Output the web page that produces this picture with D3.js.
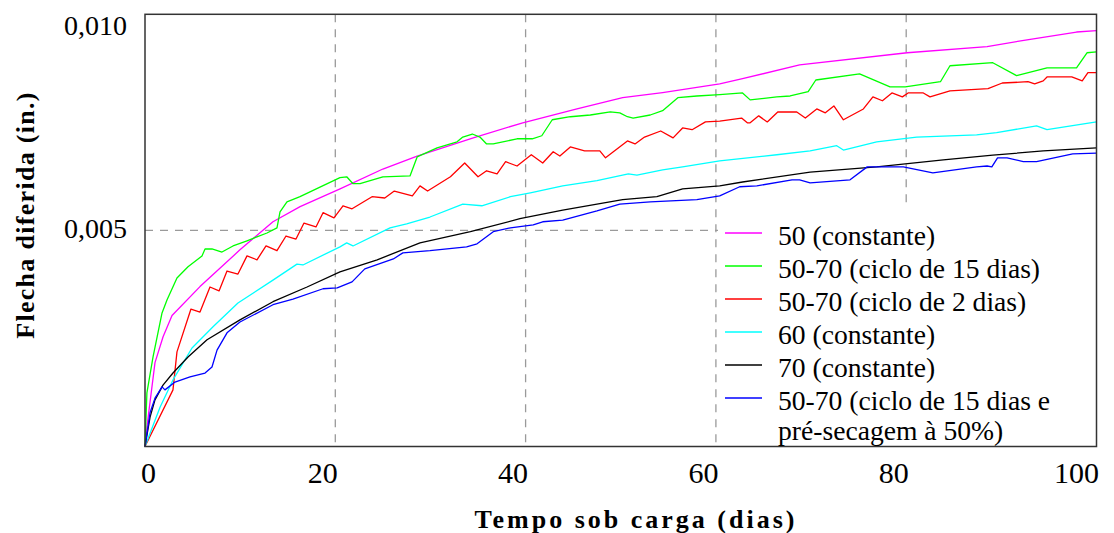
<!DOCTYPE html>
<html><head><meta charset="utf-8">
<script src="https://cdn.jsdelivr.net/npm/d3@7"></script>
<style>html,body{margin:0;padding:0;background:#fff;} svg{display:block;}</style>
</head><body>
<svg id="chart" width="1114" height="533"></svg>
<script>
// ---- tick labels / grid ----
const xTicks = [0, 20, 40, 60, 80, 100];
const xTickLabels = ["0", "20", "40", "60", "80", "100"];
const yTicks = [0.005, 0.010];
const yTickLabels = ["0,005", "0,010"];
const xGrid = [20, 40, 60, 80];
const yGrid = [0.005];

// ---- series names / colours ----
const seriesNames = [
  "50 (constante)",
  "50-70 (ciclo de 15 dias)",
  "50-70 (ciclo de 2 dias)",
  "60 (constante)",
  "70 (constante)",
  "50-70 (ciclo de 15 dias e\npré-secagem à 50%)"
];
const seriesColors = ["#ff00ff", "#00ff00", "#ff0000", "#00ffff", "#000000", "#0000ff"];

// ---- data: days, deflection (x 0.001 in.) ----
const magentaDays = [0,0.2,1.05,1.9,2.84,5.78,9.98,13.45,16.3,20.5,25.0,28.6,34.5,39.7,45.4,50.2,54.4,60.4,62.8,68.8,80.1,88.5,92.7,97.9,100];
const magentaVals = [0,0.45,1.94,2.54,3.03,3.70,4.55,5.20,5.55,5.96,6.42,6.72,7.14,7.49,7.81,8.07,8.19,8.39,8.51,8.83,9.11,9.25,9.41,9.59,9.62];

const greenDays = [0,0.2,0.84,1.79,2.31,3.36,4.52,5.99,6.31,7.04,8.09,9.25,10.72,12.82,13.87,14.19,14.92,16.29,20.49,21.2,21.86,22.6,25.0,27.85,28.6,30.7,32.8,33.4,34.4,35.2,35.9,36.6,39.1,40.7,41.7,42.8,44.7,46.8,48.9,49.9,50.7,51.3,53.1,54.4,56.0,58.0,60.4,62.8,63.6,66.4,67.8,69.7,70.5,75.1,78.3,79.9,83.6,84.6,89.1,91.6,94.8,97.9,99.0,100];
const greenVals = [0,1.24,2.07,3.09,3.39,3.90,4.16,4.41,4.57,4.57,4.50,4.64,4.76,4.94,5.06,5.43,5.66,5.78,6.22,6.24,6.08,6.08,6.24,6.26,6.70,6.91,7.05,7.16,7.23,7.16,7.00,7.00,7.12,7.12,7.19,7.56,7.63,7.67,7.74,7.72,7.63,7.60,7.67,7.77,8.07,8.11,8.14,8.18,8.02,8.09,8.11,8.21,8.48,8.62,8.32,8.32,8.44,8.81,8.88,8.58,8.76,8.76,9.11,9.13];

const redDays = [0,2.94,3.36,4.83,5.78,6.83,7.78,8.62,9.77,10.72,11.77,12.72,13.87,14.82,15.87,16.71,17.97,18.71,19.86,20.81,21.76,23.86,25.2,26.2,28.1,28.9,29.7,32.1,33.6,35.0,35.9,37.0,37.9,39.1,40.6,41.8,42.9,43.6,44.7,46.2,47.8,48.4,50.7,51.5,52.5,54.2,55.5,56.5,57.5,58.9,60.4,62.7,63.3,63.6,64.5,65.4,66.5,68.5,69.4,70.6,71.5,72.4,73.4,75.5,76.5,77.5,78.5,79.6,80.2,81.8,82.5,84.6,88.6,90.1,92.8,93.5,94.4,94.8,97.4,98.5,99.1,100];
const redVals = [0,1.31,2.19,3.18,3.11,3.69,3.60,4.06,3.99,4.41,4.32,4.64,4.53,4.87,4.80,5.17,5.08,5.41,5.29,5.57,5.50,5.78,5.75,5.91,5.80,6.03,5.91,6.24,6.56,6.24,6.38,6.31,6.59,6.49,6.75,6.56,6.82,6.72,6.93,6.84,6.84,6.68,7.07,7.00,7.16,7.30,7.14,7.37,7.33,7.51,7.53,7.60,7.49,7.49,7.65,7.51,7.74,7.74,7.60,7.81,7.72,7.88,7.56,7.81,8.09,8.00,8.18,8.09,8.18,8.18,8.09,8.23,8.28,8.41,8.44,8.39,8.46,8.55,8.55,8.46,8.65,8.65];

const cyanDays = [0,1.58,2.94,4.94,7.15,9.77,13.45,15.97,16.6,20.49,21.2,21.86,25.75,27.5,29.95,33.4,35.4,38.4,40.5,43.9,47.5,50.8,51.7,54.4,56.5,60.4,66.4,69.9,72.7,73.4,76.9,81.1,87.4,89.5,93.7,94.8,100];
const cyanVals = [0,0.91,1.54,2.28,2.77,3.32,3.85,4.22,4.20,4.62,4.71,4.64,5.06,5.15,5.31,5.61,5.57,5.78,5.87,6.03,6.15,6.31,6.28,6.40,6.47,6.61,6.75,6.84,6.96,6.86,7.05,7.16,7.21,7.26,7.42,7.33,7.51];

const blackDays = [0,0.53,1.05,1.89,2.94,4.52,6.52,9.98,13.45,17.03,20.49,24.4,28.9,34.2,39.4,43.9,50.2,53.8,56.5,60.4,62.8,69.9,76.9,83.9,89.1,94.4,100];
const blackVals = [0,0.68,1.08,1.42,1.70,2.07,2.47,2.93,3.35,3.69,4.04,4.32,4.71,4.97,5.27,5.47,5.71,5.78,5.96,6.03,6.12,6.35,6.47,6.63,6.74,6.84,6.91];

const blueDays = [0,0.53,1.05,1.79,2.10,3.15,4.73,6.31,7.04,7.57,8.62,9.98,13.45,15.55,18.71,20.2,21.76,23.1,26.1,27.1,29.95,33.8,34.9,36.6,38.4,40.8,41.8,43.9,47.5,49.9,53.1,58.0,60.4,62.5,64.3,68.0,68.8,69.9,74.1,75.9,79.7,82.8,87.4,88.5,89.0,89.6,90.6,92.3,93.7,97.5,100];
const blueVals = [0,0.78,1.12,1.38,1.31,1.49,1.61,1.70,1.84,2.23,2.63,2.88,3.28,3.41,3.65,3.67,3.81,4.11,4.34,4.48,4.53,4.62,4.69,4.97,5.06,5.13,5.20,5.24,5.45,5.61,5.66,5.71,5.80,6.01,6.03,6.17,6.17,6.10,6.17,6.47,6.47,6.33,6.47,6.49,6.47,6.68,6.68,6.59,6.59,6.77,6.79];

const seriesDays = [magentaDays, greenDays, redDays, cyanDays, blackDays, blueDays];
const seriesVals = [magentaVals, greenVals, redVals, cyanVals, blackVals, blueVals];

// ---- layout ----
const M = {left: 145, right: 1096.5, top: 14.3, bottom: 446.5};
const x = d3.scaleLinear().domain([0, 100]).range([M.left, M.right]);
const y = d3.scaleLinear().domain([0, 0.010]).range([M.bottom, M.top]);
const svg = d3.select("#chart");
const serif = '"Liberation Serif","Times New Roman",Times,serif';

// grid
svg.append("g").selectAll("line").data(xGrid).join("line")
  .attr("x1", d => x(d)).attr("x2", d => x(d)).attr("y1", M.top).attr("y2", M.bottom)
  .attr("stroke", "#9a9a9a").attr("stroke-width", 1.3).attr("stroke-dasharray", "8,7");
svg.append("g").selectAll("line").data(yGrid).join("line")
  .attr("x1", M.left).attr("x2", M.right).attr("y1", d => y(d)).attr("y2", d => y(d))
  .attr("stroke", "#9a9a9a").attr("stroke-width", 1.3).attr("stroke-dasharray", "8,7");

// legend background
const lgLeft = 718, lgTop = 203;
svg.append("rect").attr("x", lgLeft).attr("y", lgTop)
  .attr("width", M.right - lgLeft).attr("height", M.bottom - lgTop).attr("fill", "#fff");

// series
const line = d3.line().x(d => x(d[0])).y(d => y(d[1] * 1e-3));
seriesDays.forEach((days, i) => {
  svg.append("path").datum(d3.zip(days, seriesVals[i]))
    .attr("d", line).attr("fill", "none").attr("stroke", seriesColors[i])
    .attr("stroke-width", 1.3).attr("stroke-linejoin", "round");
});

// frame
svg.append("rect").attr("x", M.left).attr("y", M.top)
  .attr("width", M.right - M.left).attr("height", M.bottom - M.top)
  .attr("fill", "none").attr("stroke", "#333").attr("stroke-width", 1.5);

// x axis
const gx = svg.append("g").attr("transform", `translate(0,${M.bottom})`)
  .call(d3.axisBottom(x).tickValues(xTicks).tickSize(0).tickFormat((d, i) => xTickLabels[i]));
gx.select(".domain").remove();
gx.selectAll("text").attr("font-family", serif).attr("font-size", 30).attr("fill", "#000")
  .attr("y", 36.5).attr("dy", 0)
  .attr("text-anchor", d => d === 0 ? "middle" : "end")
  .attr("dx", d => d === 0 ? 3 : 2);

// y axis
const gy = svg.append("g").attr("transform", `translate(${M.left},0)`)
  .call(d3.axisLeft(y).tickValues(yTicks).tickSize(0).tickFormat((d, i) => yTickLabels[i]));
gy.select(".domain").remove();
gy.selectAll("text").attr("font-family", serif).attr("font-size", 28).attr("fill", "#000")
  .attr("x", -18).attr("dy", 0)
  .attr("y", d => Math.max(y(d) + 7, M.top + 20) - y(d));

// axis titles
svg.append("text").attr("x", 636).attr("y", 528).attr("text-anchor", "middle")
  .attr("font-family", serif).attr("font-weight", "bold").attr("font-size", 26)
  .attr("letter-spacing", 3).text("Tempo sob carga (dias)");
svg.append("text").attr("transform", "translate(34,215) rotate(-90)").attr("text-anchor", "middle")
  .attr("font-family", serif).attr("font-weight", "bold").attr("font-size", 26)
  .attr("letter-spacing", 1.3).text("Flecha diferida (in.)");

// legend
const lg = svg.append("g");
seriesNames.forEach((name, i) => {
  const ly = 233 + 33 * i;
  lg.append("line").attr("x1", 725).attr("x2", 762).attr("y1", ly).attr("y2", ly)
    .attr("stroke", seriesColors[i]).attr("stroke-width", 1.3);
  const t = lg.append("text").attr("x", 778).attr("y", ly + 12)
    .attr("font-family", serif).attr("font-size", 27.6).attr("fill", "#000");
  name.split("\n").forEach((part, j) => {
    t.append("tspan").attr("x", 778).attr("dy", j === 0 ? 0 : 30).text(part);
  });
});
</script>
</body></html>
